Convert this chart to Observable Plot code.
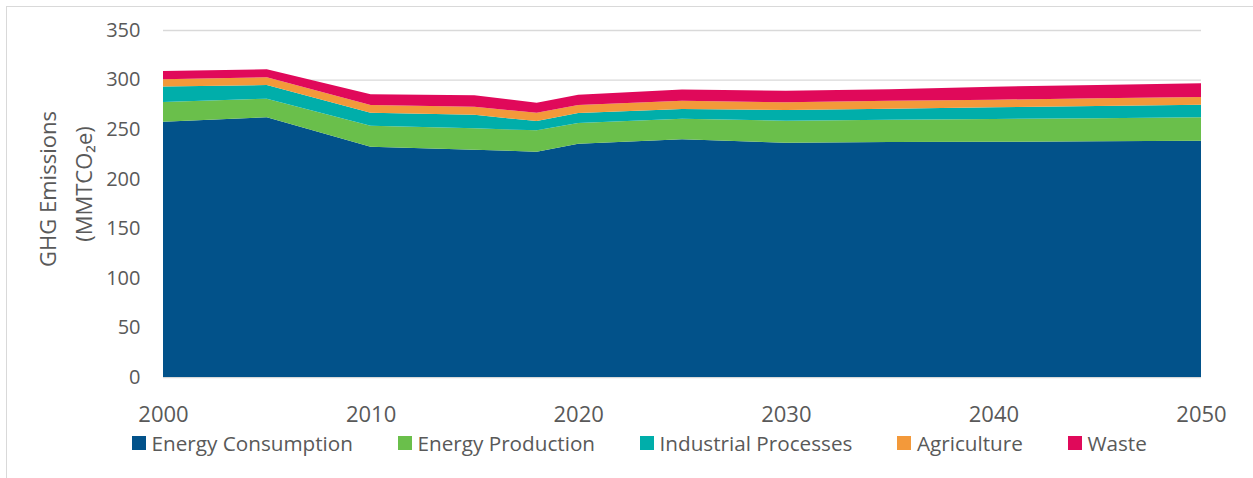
<!DOCTYPE html>
<html>
<head>
<meta charset="utf-8">
<script src="https://cdn.jsdelivr.net/npm/d3@7"></script>
<script src="https://cdn.jsdelivr.net/npm/@observablehq/plot@0.6"></script>
<style>
  html, body { margin: 0; padding: 0; background: #fff; }
  #wrap { position: relative; width: 1253px; height: 478px; overflow: hidden; font-family: "Open Sans", sans-serif; }
  #frame { position: absolute; left: 6px; top: 6px; width: 1400px; height: 700px; border: 1px solid #d9d9d9; box-sizing: border-box; }
  #chart { position: absolute; left: 0; top: 0; }
  #legend { position: absolute; left: 132px; top: 430px; height: 26px; display: flex; align-items: center; font-size: 20.7px; color: #595959; line-height: 26px; white-space: nowrap; }
  .item { display: flex; align-items: center; margin-right: 45px; }
  .sw { width: 14px; height: 14px; margin-right: 5.5px; }
</style>
</head>
<body>
<div id="wrap">
  <div id="frame"></div>
  <div id="chart"></div>
  <div id="legend"></div>
</div>
<script>
const years = [2000, 2005, 2010, 2015, 2018, 2020, 2025, 2030, 2035, 2040, 2045, 2050];
const sectors = ["Energy Consumption", "Energy Production", "Industrial Processes", "Agriculture", "Waste"];
const colors = ["#02528a", "#6abf4b", "#00aeaa", "#f3993a", "#e0095a"];
const energyConsumption = [257.5, 262.0, 232.3, 229.3, 227.3, 235.2, 239.8, 236.3, 237.0, 237.3, 237.7, 238.4];
const energyProduction  = [20.0, 18.7, 21.2, 21.5, 21.5, 21.0, 20.7, 22.2, 22.5, 22.9, 23.3, 23.6];
const industrial        = [15.4, 13.8, 13.1, 13.6, 9.4, 10.0, 9.8, 10.8, 11.1, 11.8, 12.4, 12.7];
const agriculture       = [7.5, 7.8, 7.8, 8.1, 8.4, 8.1, 8.4, 7.8, 8.1, 7.7, 7.7, 7.7];
const waste             = [8.3, 8.1, 10.8, 11.8, 10.1, 10.3, 11.4, 11.7, 11.5, 13.1, 13.4, 13.9];
const yTicks = [0, 50, 100, 150, 200, 250, 300, 350];
const xTicks = [2000, 2010, 2020, 2030, 2040, 2050];

const series = [energyConsumption, energyProduction, industrial, agriculture, waste];
const data = [];
sectors.forEach((s, i) => years.forEach((y, j) => data.push({year: y, sector: s, value: series[i][j]})));

const chart = Plot.plot({
  width: 1253,
  height: 478,
  marginLeft: 163,
  marginRight: 52,
  marginTop: 30,
  marginBottom: 101,
  style: {fontFamily: "'Open Sans', sans-serif", color: "#595959", background: "transparent"},
  x: {domain: [2000, 2050], axis: null},
  y: {domain: [0, 350], axis: null},
  color: {domain: sectors, range: colors},
  marks: [
    Plot.ruleY(yTicks, {stroke: "#d9d9d9", strokeWidth: 1.3}),
    Plot.areaY(data, {x: "year", y: "value", fill: "sector", z: "sector", curve: "linear"}),
    Plot.axisX({ticks: xTicks, tickSize: 0, tickPadding: 29, tickFormat: "d", fontSize: 22, label: null}),
    Plot.axisY({ticks: yTicks, tickSize: 0, tickPadding: 23, fontSize: 20, label: null}),
    Plot.text(["GHG Emissions"], {frameAnchor: "left", rotate: -90, dx: -115, dy: -15, fontSize: 22, fill: "#595959", text: d => d, textAnchor: "middle", lineAnchor: "middle"}),
    Plot.text(["(MMTCO₂e)"], {frameAnchor: "left", rotate: -90, dx: -79, dy: -20, fontSize: 22, fill: "#595959", text: d => d, textAnchor: "middle", lineAnchor: "middle"})
  ]
});
document.getElementById("chart").appendChild(chart);

const legend = document.getElementById("legend");
sectors.forEach((s, i) => {
  const it = document.createElement("div");
  it.className = "item";
  const sw = document.createElement("div");
  sw.className = "sw";
  sw.style.background = colors[i];
  const t = document.createElement("span");
  t.textContent = s;
  it.appendChild(sw); it.appendChild(t);
  legend.appendChild(it);
});
</script>
</body>
</html>
